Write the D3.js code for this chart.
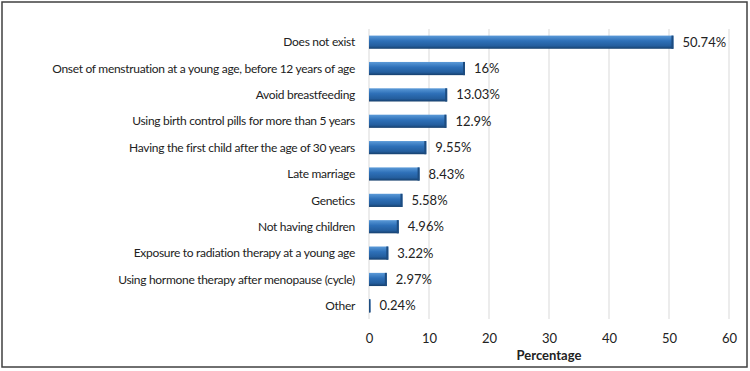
<!DOCTYPE html>
<html>
<head>
<meta charset="utf-8">
<script src="https://cdn.jsdelivr.net/npm/d3@7"></script>
<style>
  body { margin: 0; background: #fff; }
  text { font-family: Lato, "Open Sans", sans-serif; fill: #222; }
</style>
</head>
<body>
<svg class="chart"></svg>
<script>
const width = 750;
const height = 371;

const categories = [
    "Does not exist",
    "Onset of menstruation at a young age, before 12 years of age",
    "Avoid breastfeeding",
    "Using birth control pills for more than 5 years",
    "Having the first child after the age of 30 years",
    "Late marriage",
    "Genetics",
    "Not having children",
    "Exposure to radiation therapy at a young age",
    "Using hormone therapy after menopause (cycle)",
    "Other"
];
const values = [50.74, 16, 13.03, 12.9, 9.55, 8.43, 5.58, 4.96, 3.22, 2.97, 0.24];
const valueLabels = ["50.74%", "16%", "13.03%", "12.9%", "9.55%", "8.43%", "5.58%", "4.96%", "3.22%", "2.97%", "0.24%"];
const xTicks = [0, 10, 20, 30, 40, 50, 60];

const plot = { left: 369, right: 729, top: 29, bottom: 319 };

const svg = d3.select('svg.chart')
    .attr('width', width)
    .attr('height', height);

// bar gradient
const defs = svg.append('defs');
const grad = defs.append('linearGradient')
    .attr('id', 'barGrad')
    .attr('x1', 0).attr('y1', 0).attr('x2', 0).attr('y2', 1);
grad.append('stop').attr('offset', '0%').attr('stop-color', '#5b9ad8');
grad.append('stop').attr('offset', '40%').attr('stop-color', '#2e70b8');
grad.append('stop').attr('offset', '78%').attr('stop-color', '#245e9e');
grad.append('stop').attr('offset', '100%').attr('stop-color', '#163f6c');

svg.append('rect')
    .attr('x', 2)
    .attr('y', 2)
    .attr('width', 745)
    .attr('height', 365)
    .attr('fill', 'white')
    .attr('stroke', '#404040')
    .attr('stroke-width', 1.5);

const x = d3.scaleLinear()
    .domain([0, 60])
    .range([plot.left, plot.right]);

const y = d3.scaleBand()
    .domain(categories)
    .range([plot.top, plot.bottom])
    .paddingInner(0.5)
    .paddingOuter(0.25);

// gridlines
svg.append('g')
    .selectAll('line')
    .data(xTicks)
    .join('line')
    .attr('x1', d => x(d))
    .attr('x2', d => x(d))
    .attr('y1', plot.top)
    .attr('y2', plot.bottom)
    .attr('stroke', '#d9d9d9')
    .attr('stroke-width', 1);

// x axis labels
const xAxis = svg.append('g')
    .attr('transform', `translate(0, ${plot.bottom})`)
    .call(d3.axisBottom(x).tickValues(xTicks).tickSize(0).tickPadding(15));
xAxis.select('.domain').remove();
xAxis.selectAll('text')
    .style('font-size', '13px')
    .style('font-family', 'Lato, sans-serif')
    .attr('fill', '#222');

svg.append('text')
    .attr('x', (plot.left + plot.right) / 2)
    .attr('y', 360)
    .attr('text-anchor', 'middle')
    .style('font-size', '13px')
    .style('font-weight', 'bold')
    .text('Percentage');

// category labels
svg.append('g')
    .selectAll('text')
    .data(categories)
    .join('text')
    .attr('x', plot.left - 14)
    .attr('y', d => y(d) + y.bandwidth() / 2)
    .attr('dy', '0.35em')
    .attr('text-anchor', 'end')
    .style('font-size', '12px')
    .style('letter-spacing', '-0.3px')
    .text(d => d);

// bars
const bars = svg.append('g')
    .selectAll('g')
    .data(values)
    .join('g');

bars.append('rect')
    .attr('x', x(0))
    .attr('y', (d, i) => y(categories[i]))
    .attr('width', d => x(d) - x(0))
    .attr('height', y.bandwidth())
    .attr('fill', 'url(#barGrad)');

// darker end cap for the 3D look
bars.append('rect')
    .attr('x', d => Math.max(x(0), x(d) - 2))
    .attr('y', (d, i) => y(categories[i]))
    .attr('width', d => Math.min(2, x(d) - x(0)))
    .attr('height', y.bandwidth())
    .attr('fill', '#1d4c80');

// value labels
svg.append('g')
    .selectAll('text')
    .data(values)
    .join('text')
    .attr('x', d => x(d) + 9)
    .attr('y', (d, i) => y(categories[i]) + y.bandwidth() / 2)
    .attr('dy', '0.35em')
    .style('font-size', '13px')
    .text((d, i) => valueLabels[i]);
</script>
</body>
</html>
